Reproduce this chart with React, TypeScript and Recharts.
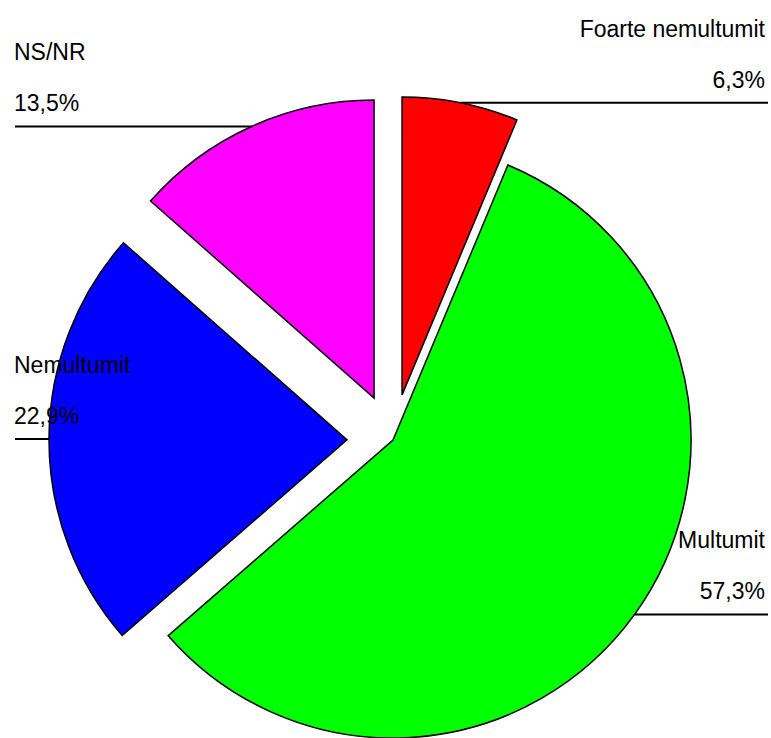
import React from 'react';
import { PieChart, Pie, Cell } from 'recharts';

// answers, clockwise from 12 o'clock
const names = ['Foarte nemultumit', 'Multumit', 'Nemultumit', 'NS/NR'];
const shares = [6.3, 57.3, 22.9, 13.5];
const colors = ['#ff0000', '#00ff00', '#0000ff', '#ff00ff'];

const data = names.map((name, i) => ({ name, value: shares[i] }));

const W = 771;
const H = 738;
const CX = 393;
const CY = 440;
const R = 298;
const EXPLODE = 46; // every slice but the biggest is pulled out
const FONT = '"Liberation Sans", Arial, sans-serif';

const total = shares.reduce((a, b) => a + b, 0);
const largest = shares.indexOf(Math.max(...shares));

// mid angle of each slice, same direction as the Pie (90 -> -270)
const midAngles = shares.map((v, i) => {
  const before = shares.slice(0, i).reduce((a, b) => a + b, 0);
  return 90 - ((before + v / 2) / total) * 360;
});

const fmt = (v: number) => v.toFixed(1).replace('.', ',') + '%';

function makeLabel(slice: number) {
  return (p: any) => {
    if (p.index !== slice) return <g />;
    const rad = (p.midAngle * Math.PI) / 180;
    const x0 = p.cx + p.outerRadius * Math.cos(rad);
    const y0 = p.cy - p.outerRadius * Math.sin(rad);
    const right = Math.cos(rad) > 0;
    const xEnd = right ? 768 : 15;
    const tx = right ? 765 : 14;
    const anchor = right ? 'end' : 'start';
    return (
      <g>
        <line x1={x0} y1={y0} x2={xEnd} y2={y0} stroke="#000" strokeWidth={2} />
        <text x={tx} y={y0 - 66} textAnchor={anchor} fill="#000" fontSize={23} fontFamily={FONT}>
          {p.name}
        </text>
        <text x={tx} y={y0 - 15} textAnchor={anchor} fill="#000" fontSize={23} fontFamily={FONT}>
          {fmt(p.value)}
        </text>
      </g>
    );
  };
}

export default function App() {
  return (
    <div style={{ width: W, height: H, background: '#fff' }}>
      <style>{'body{margin:0}'}</style>
      <PieChart width={W} height={H} margin={{ top: 0, right: 0, bottom: 0, left: 0 }}>
        {data.map((d, k) => {
          const off = k === largest ? 0 : EXPLODE;
          const rad = (midAngles[k] * Math.PI) / 180;
          return (
            <Pie
              key={d.name}
              data={data}
              dataKey="value"
              nameKey="name"
              cx={CX + off * Math.cos(rad)}
              cy={CY - off * Math.sin(rad)}
              outerRadius={R}
              startAngle={90}
              endAngle={-270}
              isAnimationActive={false}
              label={makeLabel(k)}
              labelLine={false}
            >
              {data.map((e, i) => (
                <Cell
                  key={`cell-${i}`}
                  fill={i === k ? colors[i] : 'none'}
                  stroke={i === k ? '#000' : 'none'}
                  strokeWidth={1.5}
                />
              ))}
            </Pie>
          );
        })}
      </PieChart>
    </div>
  );
}
